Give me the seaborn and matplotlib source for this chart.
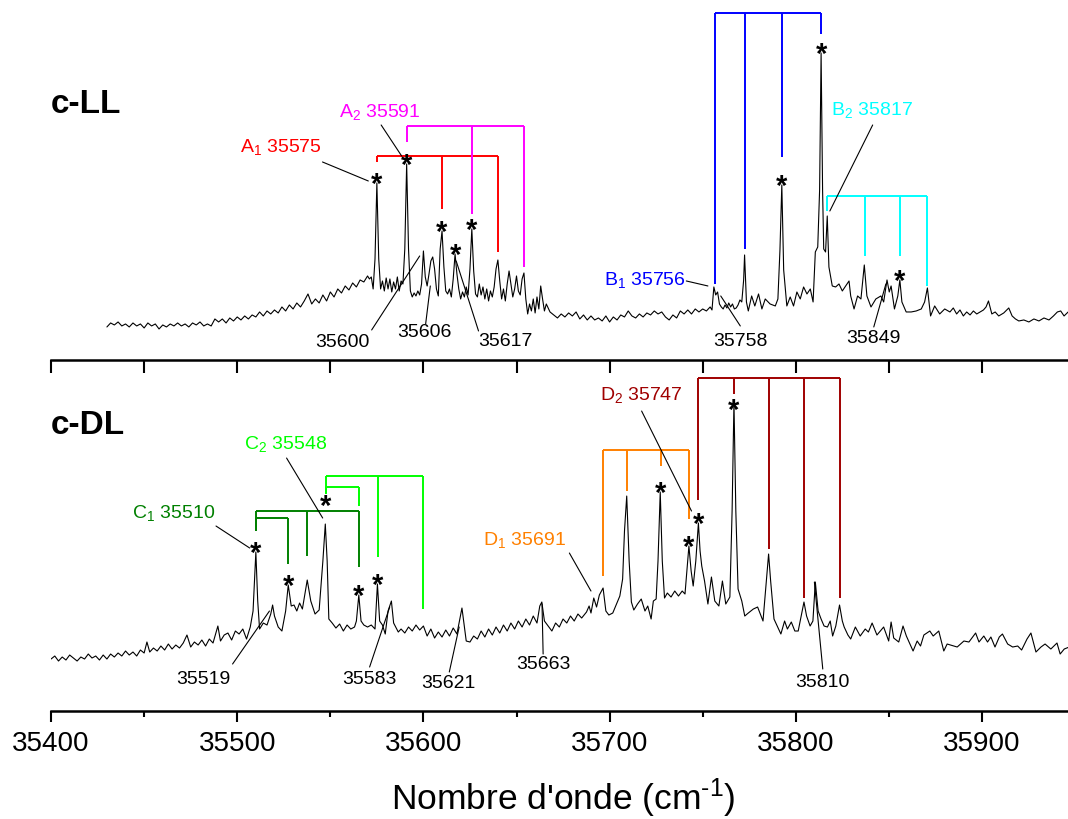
import numpy as np
import seaborn as sns
import matplotlib.pyplot as plt
from matplotlib.ticker import MultipleLocator

# ---- c-LL spectrum (wavenumber cm-1, intensity arb. units) ----
ll_wn = [35430, 35432, 35434, 35436, 35438, 35440, 35442, 35444, 35446, 35448,
         35450, 35452, 35454, 35456, 35458, 35460, 35462, 35464, 35466, 35468,
         35470, 35472, 35474, 35476, 35478, 35480, 35482, 35484, 35486, 35488,
         35490, 35492, 35494, 35496, 35498, 35500, 35502, 35504, 35506, 35508,
         35510, 35512, 35514, 35516, 35518, 35520, 35522, 35524, 35526, 35528,
         35530, 35532, 35534, 35536, 35538, 35540, 35542, 35544, 35546, 35548,
         35550, 35552, 35554, 35556, 35558, 35560, 35562, 35564, 35566, 35568,
         35570, 35571, 35572, 35573, 35574, 35575, 35576, 35577, 35578, 35579,
         35580, 35581, 35582, 35583, 35584, 35585, 35586, 35587, 35588, 35589,
         35590, 35591, 35592, 35593, 35594, 35595, 35596, 35597, 35598, 35599,
         35600, 35601, 35602, 35603, 35604, 35605, 35606, 35607, 35608, 35609,
         35610, 35611, 35612, 35613, 35614, 35615, 35616, 35617, 35618, 35619,
         35620, 35621, 35622, 35623, 35624, 35625, 35626, 35627, 35628, 35629,
         35630, 35631, 35632, 35633, 35634, 35635, 35636, 35637, 35638, 35639,
         35640, 35641, 35642, 35643, 35644, 35645, 35646, 35647, 35648, 35649,
         35650, 35651, 35652, 35653, 35654, 35655, 35656, 35657, 35658, 35659,
         35660, 35661, 35662, 35663, 35664, 35665, 35666, 35668, 35670, 35672,
         35674, 35676, 35678, 35680, 35682, 35684, 35686, 35688, 35690, 35692,
         35694, 35696, 35698, 35700, 35702, 35704, 35706, 35708, 35710, 35712,
         35714, 35716, 35718, 35720, 35722, 35724, 35726, 35728, 35730, 35732,
         35734, 35736, 35738, 35740, 35742, 35744, 35746, 35748, 35750, 35752,
         35754, 35755, 35756, 35757, 35758, 35759, 35760, 35761, 35762, 35763,
         35764, 35765, 35766, 35767, 35768, 35769, 35770, 35771, 35772, 35772.5,
         35773.5, 35774.5, 35776.3, 35778, 35780, 35781.8, 35783.6, 35786.2, 35789, 35790.4,
         35791.5, 35792.5, 35793.5, 35795.2, 35797, 35798.8, 35800.6, 35802.4, 35804.2, 35806,
         35807.8, 35809.3, 35810.5, 35811.8, 35812.8, 35813.6, 35814.4, 35815, 35816, 35816.9,
         35817.8, 35819.6, 35821.4, 35823.2, 35825, 35826.8, 35828.6, 35829.5, 35831.3, 35833.2,
         35835, 35836.8, 35838.2, 35840.4, 35843, 35845.7, 35847.2, 35849, 35850.2, 35851.2,
         35853, 35854.8, 35855.9, 35857, 35859.3, 35862, 35864.7, 35867.4, 35869.2, 35870.7,
         35872.4, 35874.6, 35877.3, 35880, 35882.8, 35884.6, 35886.4, 35888.2, 35890, 35891.8,
         35893.6, 35895.4, 35897.2, 35899, 35900.8, 35902.2, 35903.5, 35905.3, 35907.1, 35909,
         35911.7, 35914.4, 35916.2, 35918, 35919.8, 35922.5, 35925.2, 35927.9, 35930.6, 35933.3,
         35936, 35938.4, 35940.5, 35942.3, 35944.1, 35946.3, 35948, 35949.5]
ll_int = [33, 37, 35, 38, 34, 36, 33, 37, 34, 36,
          32, 37, 34, 36, 31, 35, 33, 36, 34, 37,
          34, 36, 33, 37, 35, 38, 34, 36, 34, 41,
          38, 41, 37, 42, 39, 43, 40, 44, 41, 45,
          43, 48, 44, 49, 46, 50, 47, 53, 49, 55,
          51, 57, 53, 59, 66, 56, 61, 57, 65, 59,
          68, 63, 71, 67, 74, 70, 77, 73, 80, 78,
          84, 81, 83, 71, 101, 177, 101, 71, 79, 69,
          82, 71, 81, 68, 78, 71, 83, 69, 79, 76,
          111, 196, 111, 69, 63, 67, 64, 69, 65, 76,
          109, 83, 74, 86, 99, 103, 91, 71, 64, 111,
          129, 93, 69, 66, 71, 63, 81, 106, 86, 71,
          61, 68, 63, 73, 65, 91, 131, 89, 66, 63,
          76, 65, 73, 61, 71, 59, 69, 63, 73, 91,
          100, 79, 61, 71, 59, 76, 89, 76, 63, 71,
          84, 69, 65, 81, 87, 61, 46, 56, 49, 61,
          47, 63, 51, 74, 61, 49, 56, 48, 45, 42,
          46, 43, 47, 44, 48, 41, 45, 40, 44, 40,
          42, 39, 44, 38, 43, 40, 45, 43, 49, 44,
          42, 46, 43, 47, 45, 49, 46, 48, 43, 40,
          45, 42, 49, 46, 50, 46, 51, 48, 51, 49,
          53, 50, 73, 65, 68, 56, 53, 51, 55, 52,
          57, 53, 56, 51, 52, 55, 60, 58, 80, 105,
          58, 49, 64, 54, 66, 51, 61, 56, 54, 61,
          110, 175, 90, 54, 63, 54, 68, 61, 73, 66,
          71, 58, 108, 113, 170, 307, 170, 111, 108, 144,
          93, 74, 73, 76, 69, 74, 79, 64, 51, 64,
          61, 95, 64, 53, 61, 64, 58, 80, 68, 74,
          51, 64, 80, 58, 48, 48, 49, 51, 58, 72,
          44, 54, 46, 51, 48, 52, 46, 50, 44, 48,
          45, 49, 46, 48, 50, 53, 59, 46, 48, 44,
          47, 52, 44, 41, 39, 40, 38, 41, 39, 42,
          40, 44, 48, 49, 44, 48, 43, 36]

# ---- c-DL spectrum ----
dl_wn = [35400, 35402, 35404, 35406, 35408, 35410, 35412, 35414, 35416, 35418,
         35420, 35422, 35424, 35426, 35428, 35430, 35432, 35434, 35436, 35438,
         35440, 35442, 35444, 35446, 35448, 35450, 35451.5, 35453, 35455, 35457,
         35459, 35461, 35463, 35465, 35467, 35469, 35471, 35473, 35475, 35477,
         35479, 35481, 35483, 35485, 35487, 35489.6, 35491, 35493, 35495, 35497,
         35499, 35501, 35503, 35505, 35507, 35508.5, 35510, 35511, 35512, 35514,
         35516, 35518, 35519, 35520, 35522, 35524, 35526, 35527.4, 35529, 35530.5,
         35532, 35533.5, 35535, 35537.6, 35539.5, 35541.8, 35544, 35546, 35547.3, 35548.3,
         35549.2, 35551, 35553, 35555, 35557, 35559, 35561, 35563, 35564, 35565.3,
         35566.5, 35568, 35570, 35572, 35574, 35575.3, 35576.5, 35578, 35579.5, 35581,
         35582.8, 35584, 35586.5, 35588, 35590, 35592, 35594, 35596, 35598, 35600,
         35602, 35604, 35606, 35608, 35610, 35612, 35614, 35616, 35618, 35620.7,
         35623, 35625, 35627, 35629, 35631, 35633, 35635, 35637, 35639, 35641,
         35643, 35645, 35647, 35649, 35651, 35653, 35655, 35657, 35659, 35661,
         35662.5, 35663.6, 35665, 35667, 35669, 35671, 35673, 35675, 35677, 35679,
         35681, 35683, 35685, 35687.6, 35689, 35690, 35691.5, 35693, 35694.5, 35696.5,
         35698, 35699.6, 35701.7, 35703.5, 35705.5, 35707, 35708, 35709.2, 35710.5, 35711.7,
         35713, 35715, 35717, 35719, 35720.5, 35722.3, 35723.5, 35725, 35726, 35727.2,
         35728.3, 35729.5, 35731, 35733, 35735, 35737, 35739, 35740.5, 35741.5, 35742.6,
         35743.8, 35744.9, 35746.3, 35747.7, 35748.6, 35749.5, 35751, 35752.8, 35754.7, 35756.5,
         35758.7, 35760.6, 35762.4, 35764.6, 35765.8, 35766.8, 35767.8, 35769, 35771, 35772.6,
         35774.5, 35777.2, 35779.5, 35782.4, 35784.2, 35785.4, 35786.5, 35788.3, 35790, 35792,
         35794, 35795.5, 35797.6, 35799.5, 35801.3, 35803, 35804.4, 35805.8, 35807.7, 35809.2,
         35810.5, 35812, 35813.6, 35815.2, 35817, 35818.5, 35819.8, 35821.5, 35823.5, 35825,
         35826, 35828, 35829.5, 35832, 35834.6, 35837.3, 35839, 35841, 35843.6, 35847.2,
         35849.9, 35851.2, 35852.6, 35855.3, 35857.6, 35859.4, 35863, 35865.2, 35867, 35868.8,
         35872, 35873.8, 35876.8, 35879.5, 35881.3, 35886.7, 35890.3, 35893, 35896.6, 35898.4,
         35901, 35903, 35904.8, 35907, 35909.3, 35911, 35913.8, 35916.5, 35919.2, 35921.3,
         35924.2, 35926.3, 35929, 35931.7, 35933.9, 35937, 35940.3, 35942, 35944.2, 35946.9,
         35949.5]
dl_int = [52, 55, 50, 54, 51, 56, 53, 50, 54, 52,
          57, 53, 55, 51, 56, 52, 57, 54, 58, 55,
          60, 56, 59, 55, 61, 58, 69, 59, 63, 60,
          65, 61, 67, 62, 66, 63, 68, 76, 64, 69,
          66, 71, 65, 72, 68, 85, 70, 76, 78, 71,
          80, 77, 82, 72, 84, 100, 159, 110, 82, 88,
          86, 97, 106, 95, 84, 80, 100, 126, 105, 106,
          100, 108, 102, 131, 110, 97, 101, 150, 187, 150,
          92, 88, 83, 87, 80, 86, 82, 84, 90, 116,
          90, 86, 84, 86, 82, 127, 90, 86, 77, 100,
          110, 88, 79, 82, 78, 84, 80, 86, 81, 85,
          75, 82, 73, 79, 74, 81, 75, 83, 77, 103,
          70, 69, 75, 72, 80, 74, 82, 76, 84, 78,
          86, 80, 88, 82, 90, 84, 92, 86, 95, 88,
          105, 109, 90, 85, 80, 88, 84, 92, 88, 95,
          90, 97, 93, 99, 105, 98, 113, 104, 116, 123,
          100, 96, 98, 106, 115, 132, 180, 215, 150, 109,
          101, 107, 112, 100, 105, 92, 110, 112, 150, 219,
          150, 113, 118, 114, 120, 115, 120, 117, 140, 165,
          140, 125, 150, 188, 160, 145, 130, 107, 134, 110,
          105, 130, 107, 114, 200, 309, 200, 122, 110, 95,
          98, 102, 104, 90, 130, 157, 130, 92, 85, 77,
          90, 82, 89, 80, 80, 96, 109, 95, 85, 90,
          129, 100, 92, 85, 84, 90, 75, 85, 106, 90,
          84, 76, 72, 84, 75, 82, 79, 88, 76, 84,
          70, 89, 73, 69, 85, 75, 60, 70, 65, 76,
          80, 75, 80, 60, 67, 64, 70, 69, 78, 69,
          75, 69, 74, 64, 74, 77, 67, 64, 65, 61,
          72, 78, 59, 64, 67, 62, 68, 57, 62, 64,
          60]

# ---- assigned progressions (line positions, cm-1) ----
a1_lines = [35575, 35610, 35640]
a2_lines = [35591, 35626, 35654]
b1_lines = [35756.5, 35772.5, 35792.5, 35813.6]
b2_lines = [35817, 35837, 35856, 35870.5]
c1_lines = [35510, 35527.4, 35537.6, 35565.5]
c2_lines = [35547.5, 35565.5, 35575.5, 35600]
d1_lines = [35696.3, 35709.2, 35727.5, 35742.6]
d2_lines = [35747.7, 35766.8, 35785.4, 35804.4, 35823.5]

# starred bands
ll_stars = [35575, 35591, 35610, 35617, 35626, 35792.5, 35813.6, 35855.9]
dl_stars = [35510, 35527.4, 35547.3, 35565.3, 35575.3, 35727.2, 35742.6, 35747.7, 35766.8]

RED, MAG, BLUE, CYAN = '#FF0000', '#FF00FF', '#0000FF', '#00FFFF'
DGREEN, LGREEN, ORANGE, DRED = '#008000', '#00FF00', '#FF8000', '#A00000'

sns.set_theme(style='white')
plt.rcParams['font.family'] = ['Liberation Sans', 'DejaVu Sans']
plt.rcParams['mathtext.fontset'] = 'custom'
plt.rcParams['mathtext.rm'] = 'Liberation Sans'
plt.rcParams['mathtext.it'] = 'Liberation Sans:italic'
plt.rcParams['text.color'] = 'black'
plt.rcParams['axes.labelcolor'] = 'black'
plt.rcParams['xtick.color'] = 'black'
plt.rcParams['xtick.labelcolor'] = 'black'

fig = plt.figure(figsize=(10.68, 8.2), dpi=100)
ax_top = fig.add_axes([0.0478, 0.5598, 0.9588, 0.4402])
ax_bot = fig.add_axes([0.0478, 0.1317, 0.9588, 0.4280])

sns.lineplot(x=ll_wn, y=ll_int, ax=ax_top, color='black', linewidth=0.8, estimator=None)
sns.lineplot(x=dl_wn, y=dl_int, ax=ax_bot, color='black', linewidth=0.8, estimator=None)

for ax, ymax in [(ax_top, 361), (ax_bot, 351)]:
    ax.set_xlim(35400, 35950)
    ax.set_ylim(0, ymax)
    for s in ['top', 'left', 'right']:
        ax.spines[s].set_visible(False)
    ax.spines['bottom'].set_linewidth(1.8)
    ax.spines['bottom'].set_color('black')
    ax.xaxis.set_major_locator(MultipleLocator(100))
    ax.xaxis.set_minor_locator(MultipleLocator(50))
    ax.set_yticks([])
    ax.set_ylabel('')
    ax.patch.set_alpha(0)

ax_top.tick_params(axis='x', which='both', direction='out', bottom=True, length=9,
                   width=1.5, color='black', labelbottom=False)
ax_bot.tick_params(axis='x', which='major', direction='out', bottom=True, length=8,
                   width=1.5, color='black', labelsize=20, pad=6)
ax_bot.tick_params(axis='x', which='minor', direction='out', bottom=True, length=4.5,
                   width=1.5, color='black')
ax_bot.set_xlabel("Nombre d'onde (cm$^{\\text{-1}}$)", fontsize=25.5, labelpad=14, color='black')


def bracket(ax, lines, top, ends, color):
    ax.plot([lines[0], lines[-1]], [top, top], color=color, lw=1.4, solid_capstyle='butt')
    for x, e in zip(lines, ends):
        ax.plot([x, x], [top, e], color=color, lw=1.4, solid_capstyle='butt')


# c-LL brackets
bracket(ax_top, a1_lines, 203.5, [198, 151, 108], RED)
bracket(ax_top, a2_lines, 233.7, [218, 146, 93], MAG)
bracket(ax_top, b1_lines, 347, [76, 111, 203, 326], BLUE)
bracket(ax_top, b2_lines, 164, [149, 104, 104, 74], CYAN)
# c-DL brackets
bracket(ax_bot, [c1_lines[0], c1_lines[2], c1_lines[3]], 199.7, [180, 155, 144], DGREEN)
bracket(ax_bot, c1_lines[:2], 193, [180, 147], DGREEN)
bracket(ax_bot, [c2_lines[0], c2_lines[2], c2_lines[3]], 235.3, [217, 154, 102], LGREEN)
bracket(ax_bot, c2_lines[:2], 223.7, [217, 205], LGREEN)
bracket(ax_bot, d1_lines, 261, [135, 220, 245, 192], ORANGE)
bracket(ax_bot, d2_lines, 333, [211, 317, 162, 113, 113], DRED)

# stars on top of bands
star_lift = {35547.3: 14, 35766.8: -5}
for ax, stars, wn, it in [(ax_top, ll_stars, ll_wn, ll_int), (ax_bot, dl_stars, dl_wn, dl_int)]:
    for s in stars:
        y = np.interp(s, wn, it)
        ax.annotate('*', (s, y), xytext=(0, -6.5 + star_lift.get(s, 0)), textcoords='offset points',
                    ha='center', va='baseline', fontsize=21, fontweight='bold', color='black')

# panel titles
ax_top.text(35400, 256, 'c-LL', fontsize=24, fontweight='bold', ha='left', va='center', color='black')
ax_bot.text(35400, 287, 'c-DL', fontsize=24, fontweight='bold', ha='left', va='center', color='black')

# labels: text, colour, text position, leader start, leader end
ll_labels = [
    ('A$_1$ 35575', RED, (35523.3, 214), (35545.8, 198), (35570.4, 179)),
    ('A$_2$ 35591', MAG, (35576.5, 249), (35577.3, 235), (35588.3, 204)),
    ('B$_1$ 35756', BLUE, (35718.8, 81), (35741.2, 79), (35752.8, 74)),
    ('B$_2$ 35817', CYAN, (35841, 251), (35841.3, 235), (35818.3, 149)),
    ('35600', 'black', (35556.6, 18), (35572.2, 30), (35598, 104)),
    ('35606', 'black', (35600.4, 28), (35601.2, 36), (35603.7, 74)),
    ('35617', 'black', (35644, 19), (35629.6, 29), (35617.6, 99)),
    ('35758', 'black', (35770, 19), (35770.2, 34), (35759.7, 64)),
    ('35849', 'black', (35841.5, 22), (35841.9, 33), (35848.4, 76)),
]
dl_labels = [
    ('C$_1$ 35510', DGREEN, (35466, 199), (35488.6, 185), (35506.7, 163)),
    ('C$_2$ 35548', LGREEN, (35526, 268), (35526.5, 253), (35545.9, 193)),
    ('D$_1$ 35691', ORANGE, (35654.2, 172), (35678.4, 158), (35690, 120)),
    ('D$_2$ 35747', DRED, (35716.8, 317), (35717.2, 300), (35744, 200)),
    ('35519', 'black', (35481.9, 33), (35497.5, 47), (35517.3, 100)),
    ('35583', 'black', (35571.1, 33), (35571.1, 44), (35581.9, 104)),
    ('35621', 'black', (35613.2, 29), (35613.9, 39), (35619.2, 84)),
    ('35663', 'black', (35664.3, 48), (35664.3, 57), (35663.7, 107)),
    ('35810', 'black', (35814.1, 30), (35814.5, 42), (35810, 129)),
]
for ax, labels in [(ax_top, ll_labels), (ax_bot, dl_labels)]:
    for txt, col, pos, p0, p1 in labels:
        ax.text(pos[0], pos[1], txt, color=col, fontsize=14, ha='center', va='center')
        ax.plot([p0[0], p1[0]], [p0[1], p1[1]], color='black', lw=0.8)

fig.savefig('out.png', dpi=100)
